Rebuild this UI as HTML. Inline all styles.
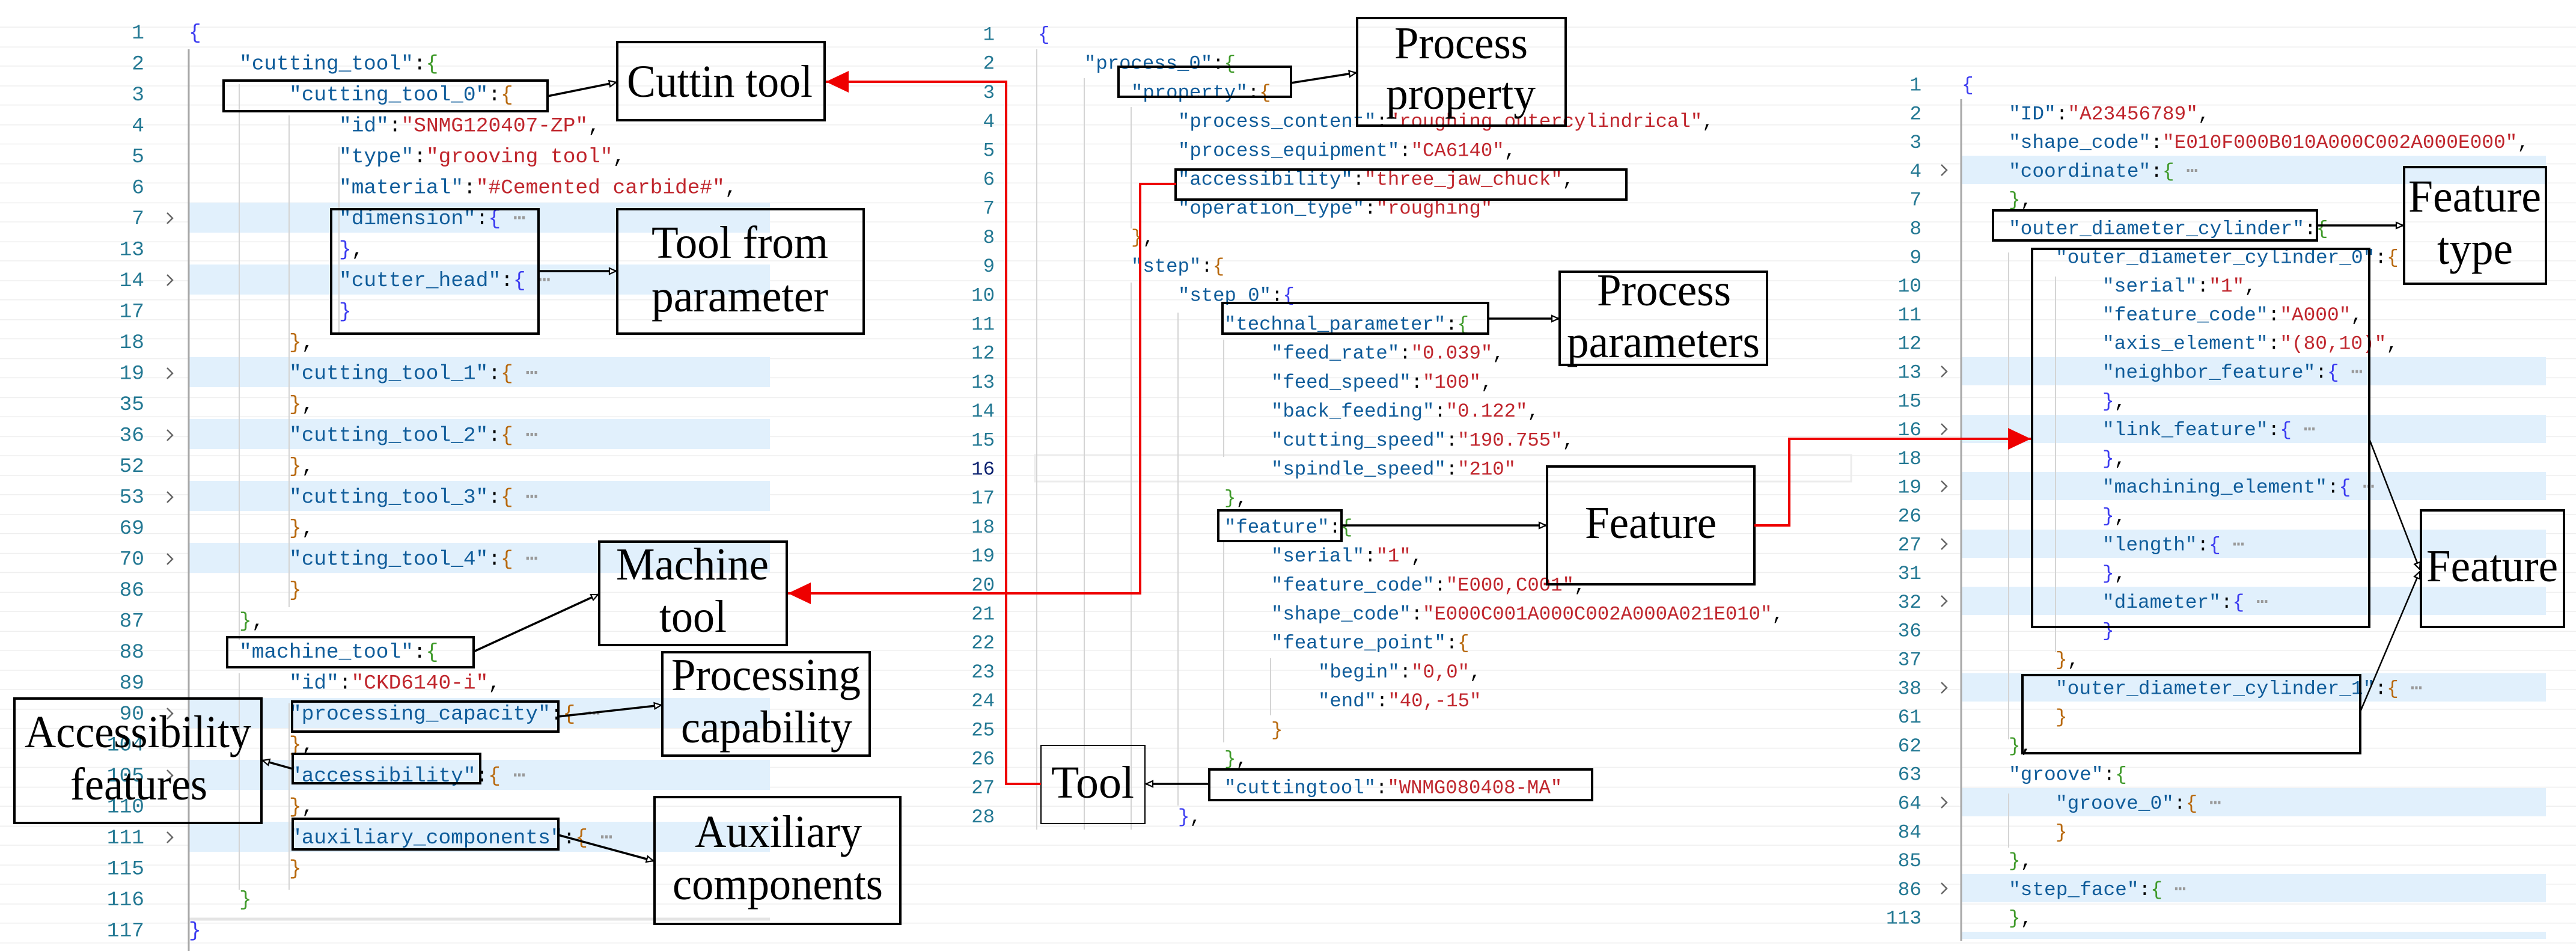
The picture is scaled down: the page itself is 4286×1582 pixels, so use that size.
<!DOCTYPE html>
<html><head><meta charset="utf-8"><style>
html,body{margin:0;padding:0;background:#fff;}
body{width:4286px;height:1582px;overflow:hidden;position:relative;
background:repeating-linear-gradient(to bottom,transparent 0,transparent 30.9px,#ebebeb 30.9px,#ebebeb 32.4px);background-position:0 14px;}
svg{position:absolute;left:0;top:0;}
text{white-space:pre;}
.c1{font-family:"Liberation Mono",monospace;font-size:34.5px;fill:#000;}
.c2{font-family:"Liberation Mono",monospace;font-size:32.3px;fill:#000;}
.c3{font-family:"Liberation Mono",monospace;font-size:32.8px;fill:#000;}
.n{fill:#237893;}
.k{fill:#0f5c9a;}.s{fill:#c0262d;}.b1{fill:#3b3bf0;}.b2{fill:#3f9a2a;}.b3{fill:#b8690e;}.e{fill:#999;}
.lab{font-family:"Liberation Serif",serif;font-size:76px;fill:#000;}
.bx{fill:none;stroke:#000;stroke-width:4;}
.ar{fill:none;stroke:#000;stroke-width:3.5;}
.rd{fill:none;stroke:#e00;stroke-width:4;}
.g{stroke:#d4d4d4;stroke-width:2;}
.gm{stroke:#a8a8a8;stroke-width:3;}
.hl{fill:#e1f0fc;}
.ch{fill:none;stroke:#666;stroke-width:2.5;}
</style></head><body>
<svg width="4286" height="1582" viewBox="0 0 4286 1582" xmlns="http://www.w3.org/2000/svg">
<defs>
<marker id="a" markerWidth="16" markerHeight="16" refX="13" refY="8" orient="auto" markerUnits="userSpaceOnUse"><path d="M2,3 L13,8 L2,13 z" fill="#fff" stroke="#000" stroke-width="2.2"/></marker>
<marker id="r" markerWidth="40" markerHeight="40" refX="38" refY="20" orient="auto" markerUnits="userSpaceOnUse"><path d="M0,2 L38,20 L0,38 z" fill="#e00"/></marker>
</defs>

<g class="hl">
<rect x="314" y="337" width="967" height="50"/><rect x="314" y="440" width="967" height="50"/>
<rect x="314" y="594" width="967" height="50"/><rect x="314" y="697" width="967" height="50"/>
<rect x="314" y="800" width="967" height="50"/><rect x="314" y="903" width="967" height="50"/>
<rect x="314" y="1161" width="967" height="50"/><rect x="314" y="1264" width="967" height="50"/>
<rect x="314" y="1367" width="967" height="50"/>
<rect x="3263" y="259" width="973" height="47"/><rect x="3263" y="594" width="973" height="47"/>
<rect x="3263" y="690" width="973" height="47"/><rect x="3263" y="785" width="973" height="47"/>
<rect x="3263" y="881" width="973" height="47"/><rect x="3263" y="976" width="973" height="47"/>
<rect x="3263" y="1120" width="973" height="47"/><rect x="3263" y="1311" width="973" height="47"/>
<rect x="3263" y="1454" width="973" height="47"/><rect x="3263" y="1550" width="973" height="12"/>
</g>
<rect x="1722" y="757" width="1358" height="44" fill="none" stroke="#ececec" stroke-width="3"/>
<line x1="314" y1="1529" x2="1281" y2="1529" stroke="#e4e4e4" stroke-width="5"/>

<line class="gm" x1="314" y1="82" x2="314" y2="1582"/>
<line class="g" x1="398" y1="140" x2="398" y2="1065"/><line class="g" x1="398" y1="1120" x2="398" y2="1480"/>
<line class="g" x1="481" y1="192" x2="481" y2="1010"/><line class="g" x1="481" y1="1170" x2="481" y2="1480"/>
<line class="g" x1="564" y1="244" x2="564" y2="555"/>
<line class="g" x1="1725" y1="82" x2="1725" y2="1380"/><line class="g" x1="1804" y1="130" x2="1804" y2="1380"/>
<line class="g" x1="1882" y1="178" x2="1882" y2="380"/><line class="g" x1="1882" y1="470" x2="1882" y2="1380"/>
<line class="g" x1="1960" y1="520" x2="1960" y2="1340"/><line class="g" x1="2036" y1="565" x2="2036" y2="760"/>
<line class="g" x1="2036" y1="900" x2="2036" y2="1235"/><line class="g" x1="2114" y1="1095" x2="2114" y2="1190"/>
<line class="gm" x1="3263" y1="165" x2="3263" y2="1565"/>
<line class="g" x1="3342" y1="420" x2="3342" y2="1230"/><line class="g" x1="3342" y1="1320" x2="3342" y2="1410"/>
<line class="g" x1="3420" y1="460" x2="3420" y2="1085"/>

<g class="c1 n" text-anchor="end">
<text x="240" y="64">1</text><text x="240" y="115.5">2</text><text x="240" y="167">3</text><text x="240" y="218.5">4</text>
<text x="240" y="270">5</text><text x="240" y="321.5">6</text><text x="240" y="373">7</text><text x="240" y="424.5">13</text>
<text x="240" y="476">14</text><text x="240" y="527.5">17</text><text x="240" y="579">18</text><text x="240" y="630.5">19</text>
<text x="240" y="682">35</text><text x="240" y="733.5">36</text><text x="240" y="785">52</text><text x="240" y="836.5">53</text>
<text x="240" y="888">69</text><text x="240" y="939.5">70</text><text x="240" y="991">86</text><text x="240" y="1042.5">87</text>
<text x="240" y="1094">88</text><text x="240" y="1145.5">89</text><text x="240" y="1197">90</text><text x="240" y="1248.5">104</text>
<text x="240" y="1300">105</text><text x="240" y="1351.5">110</text><text x="240" y="1403">111</text><text x="240" y="1454.5">115</text>
<text x="240" y="1506">116</text><text x="240" y="1557.5">117</text>
</g>
<g>
<polyline class="ch" points="278,354 287,363 278,372"/><polyline class="ch" points="278,457 287,466 278,475"/>
<polyline class="ch" points="278,612 287,621 278,630"/><polyline class="ch" points="278,715 287,724 278,733"/>
<polyline class="ch" points="278,818 287,827 278,836"/><polyline class="ch" points="278,921 287,930 278,939"/>
<polyline class="ch" points="278,1178 287,1187 278,1196"/><polyline class="ch" points="278,1281 287,1290 278,1299"/>
<polyline class="ch" points="278,1384 287,1393 278,1402"/>
</g>
<g class="c1">
<text x="314" y="64"><tspan class="b1">{</tspan></text>
<text x="398" y="115.5"><tspan class="k">"cutting_tool"</tspan>:<tspan class="b2">{</tspan></text>
<text x="481" y="167"><tspan class="k">"cutting_tool_0"</tspan>:<tspan class="b3">{</tspan></text>
<text x="564" y="218.5"><tspan class="k">"id"</tspan>:<tspan class="s">"SNMG120407-ZP"</tspan>,</text>
<text x="564" y="270"><tspan class="k">"type"</tspan>:<tspan class="s">"grooving tool"</tspan>,</text>
<text x="564" y="321.5"><tspan class="k">"material"</tspan>:<tspan class="s">"#Cemented carbide#"</tspan>,</text>
<text x="564" y="373"><tspan class="k">"dimension"</tspan>:<tspan class="b1">{</tspan><tspan class="e"> ⋯</tspan></text>
<text x="564" y="424.5"><tspan class="b1">}</tspan>,</text>
<text x="564" y="476"><tspan class="k">"cutter_head"</tspan>:<tspan class="b1">{</tspan><tspan class="e"> ⋯</tspan></text>
<text x="564" y="527.5"><tspan class="b1">}</tspan></text>
<text x="481" y="579"><tspan class="b3">}</tspan>,</text>
<text x="481" y="630.5"><tspan class="k">"cutting_tool_1"</tspan>:<tspan class="b3">{</tspan><tspan class="e"> ⋯</tspan></text>
<text x="481" y="682"><tspan class="b3">}</tspan>,</text>
<text x="481" y="733.5"><tspan class="k">"cutting_tool_2"</tspan>:<tspan class="b3">{</tspan><tspan class="e"> ⋯</tspan></text>
<text x="481" y="785"><tspan class="b3">}</tspan>,</text>
<text x="481" y="836.5"><tspan class="k">"cutting_tool_3"</tspan>:<tspan class="b3">{</tspan><tspan class="e"> ⋯</tspan></text>
<text x="481" y="888"><tspan class="b3">}</tspan>,</text>
<text x="481" y="939.5"><tspan class="k">"cutting_tool_4"</tspan>:<tspan class="b3">{</tspan><tspan class="e"> ⋯</tspan></text>
<text x="481" y="991"><tspan class="b3">}</tspan></text>
<text x="398" y="1042.5"><tspan class="b2">}</tspan>,</text>
<text x="398" y="1094"><tspan class="k">"machine_tool"</tspan>:<tspan class="b2">{</tspan></text>
<text x="481" y="1145.5"><tspan class="k">"id"</tspan>:<tspan class="s">"CKD6140-i"</tspan>,</text>
<text x="481" y="1197"><tspan class="k">"processing_capacity"</tspan>:<tspan class="b3">{</tspan><tspan class="e"> ⋯</tspan></text>
<text x="481" y="1248.5"><tspan class="b3">}</tspan>,</text>
<text x="481" y="1300"><tspan class="k">"accessibility"</tspan>:<tspan class="b3">{</tspan><tspan class="e"> ⋯</tspan></text>
<text x="481" y="1351.5"><tspan class="b3">}</tspan>,</text>
<text x="481" y="1403"><tspan class="k">"auxiliary_components"</tspan>:<tspan class="b3">{</tspan><tspan class="e"> ⋯</tspan></text>
<text x="481" y="1454.5"><tspan class="b3">}</tspan></text>
<text x="398" y="1506"><tspan class="b2">}</tspan></text>
<text x="314" y="1557.5"><tspan class="b1">}</tspan></text>
</g>

<g class="c2 n" text-anchor="end">
<text x="1655" y="66.5">1</text><text x="1655" y="114.7">2</text><text x="1655" y="162.9">3</text><text x="1655" y="211.1">4</text>
<text x="1655" y="259.3">5</text><text x="1655" y="307.5">6</text><text x="1655" y="355.7">7</text><text x="1655" y="403.9">8</text>
<text x="1655" y="452.1">9</text><text x="1655" y="500.3">10</text><text x="1655" y="548.5">11</text><text x="1655" y="596.7">12</text>
<text x="1655" y="644.9">13</text><text x="1655" y="693.1">14</text><text x="1655" y="741.3">15</text><text x="1655" y="789.5" style="fill:#0b216f">16</text>
<text x="1655" y="837.7">17</text><text x="1655" y="885.9">18</text><text x="1655" y="934.1">19</text><text x="1655" y="982.3">20</text>
<text x="1655" y="1030.5">21</text><text x="1655" y="1078.7">22</text><text x="1655" y="1126.9">23</text><text x="1655" y="1175.1">24</text>
<text x="1655" y="1223.3">25</text><text x="1655" y="1271.5">26</text><text x="1655" y="1319.7">27</text><text x="1655" y="1367.9">28</text>
</g>
<g class="c2">
<text x="1727" y="66.5"><tspan class="b1">{</tspan></text>
<text x="1804" y="114.7"><tspan class="k">"process_0"</tspan>:<tspan class="b2">{</tspan></text>
<text x="1882" y="162.9"><tspan class="k">"property"</tspan>:<tspan class="b3">{</tspan></text>
<text x="1960" y="211.1"><tspan class="k">"process_content"</tspan>:<tspan class="s">"roughing outercylindrical"</tspan>,</text>
<text x="1960" y="259.3"><tspan class="k">"process_equipment"</tspan>:<tspan class="s">"CA6140"</tspan>,</text>
<text x="1960" y="307.5"><tspan class="k">"accessibility"</tspan>:<tspan class="s">"three_jaw_chuck"</tspan>,</text>
<text x="1960" y="355.7"><tspan class="k">"operation_type"</tspan>:<tspan class="s">"roughing"</tspan></text>
<text x="1882" y="403.9"><tspan class="b3">}</tspan>,</text>
<text x="1882" y="452.1"><tspan class="k">"step"</tspan>:<tspan class="b3">{</tspan></text>
<text x="1960" y="500.3"><tspan class="k">"step_0"</tspan>:<tspan class="b1">{</tspan></text>
<text x="2037" y="548.5"><tspan class="k">"technal_parameter"</tspan>:<tspan class="b2">{</tspan></text>
<text x="2115" y="596.7"><tspan class="k">"feed_rate"</tspan>:<tspan class="s">"0.039"</tspan>,</text>
<text x="2115" y="644.9"><tspan class="k">"feed_speed"</tspan>:<tspan class="s">"100"</tspan>,</text>
<text x="2115" y="693.1"><tspan class="k">"back_feeding"</tspan>:<tspan class="s">"0.122"</tspan>,</text>
<text x="2115" y="741.3"><tspan class="k">"cutting_speed"</tspan>:<tspan class="s">"190.755"</tspan>,</text>
<text x="2115" y="789.5"><tspan class="k">"spindle_speed"</tspan>:<tspan class="s">"210"</tspan></text>
<text x="2037" y="837.7"><tspan class="b2">}</tspan>,</text>
<text x="2037" y="885.9"><tspan class="k">"feature"</tspan>:<tspan class="b2">{</tspan></text>
<text x="2115" y="934.1"><tspan class="k">"serial"</tspan>:<tspan class="s">"1"</tspan>,</text>
<text x="2115" y="982.3"><tspan class="k">"feature_code"</tspan>:<tspan class="s">"E000,C001"</tspan>,</text>
<text x="2115" y="1030.5"><tspan class="k">"shape_code"</tspan>:<tspan class="s">"E000C001A000C002A000A021E010"</tspan>,</text>
<text x="2115" y="1078.7"><tspan class="k">"feature_point"</tspan>:<tspan class="b3">{</tspan></text>
<text x="2193" y="1126.9"><tspan class="k">"begin"</tspan>:<tspan class="s">"0,0"</tspan>,</text>
<text x="2193" y="1175.1"><tspan class="k">"end"</tspan>:<tspan class="s">"40,-15"</tspan></text>
<text x="2115" y="1223.3"><tspan class="b3">}</tspan></text>
<text x="2037" y="1271.5"><tspan class="b2">}</tspan>,</text>
<text x="2037" y="1319.7"><tspan class="k">"cuttingtool"</tspan>:<tspan class="s">"WNMG080408-MA"</tspan></text>
<text x="1960" y="1367.9"><tspan class="b1">}</tspan>,</text>
</g>

<g class="c3 n" text-anchor="end">
<text x="3197" y="150.5">1</text><text x="3197" y="198.3">2</text><text x="3197" y="246.1">3</text><text x="3197" y="293.9">4</text>
<text x="3197" y="341.7">7</text><text x="3197" y="389.5">8</text><text x="3197" y="437.3">9</text><text x="3197" y="485.1">10</text>
<text x="3197" y="532.9">11</text><text x="3197" y="580.7">12</text><text x="3197" y="628.5">13</text><text x="3197" y="676.3">15</text>
<text x="3197" y="724.1">16</text><text x="3197" y="771.9">18</text><text x="3197" y="819.7">19</text><text x="3197" y="867.5">26</text>
<text x="3197" y="915.3">27</text><text x="3197" y="963.1">31</text><text x="3197" y="1010.9">32</text><text x="3197" y="1058.7">36</text>
<text x="3197" y="1106.5">37</text><text x="3197" y="1154.3">38</text><text x="3197" y="1202.1">61</text><text x="3197" y="1249.9">62</text>
<text x="3197" y="1297.7">63</text><text x="3197" y="1345.5">64</text><text x="3197" y="1393.3">84</text><text x="3197" y="1441.1">85</text>
<text x="3197" y="1488.9">86</text><text x="3197" y="1536.7">113</text>
</g>
<g>
<polyline class="ch" points="3230,274 3239,283 3230,292"/><polyline class="ch" points="3230,609 3239,618 3230,627"/>
<polyline class="ch" points="3230,705 3239,714 3230,723"/><polyline class="ch" points="3230,800 3239,809 3230,818"/>
<polyline class="ch" points="3230,896 3239,905 3230,914"/><polyline class="ch" points="3230,991 3239,1000 3230,1009"/>
<polyline class="ch" points="3230,1135 3239,1144 3230,1153"/><polyline class="ch" points="3230,1326 3239,1335 3230,1344"/>
<polyline class="ch" points="3230,1469 3239,1478 3230,1487"/>
</g>
<g class="c3">
<text x="3264" y="150.5"><tspan class="b1">{</tspan></text>
<text x="3342" y="198.3"><tspan class="k">"ID"</tspan>:<tspan class="s">"A23456789"</tspan>,</text>
<text x="3342" y="246.1"><tspan class="k">"shape_code"</tspan>:<tspan class="s">"E010F000B010A000C002A000E000"</tspan>,</text>
<text x="3342" y="293.9"><tspan class="k">"coordinate"</tspan>:<tspan class="b2">{</tspan><tspan class="e"> ⋯</tspan></text>
<text x="3342" y="341.7"><tspan class="b2">}</tspan>,</text>
<text x="3342" y="389.5"><tspan class="k">"outer_diameter_cylinder"</tspan>:<tspan class="b2">{</tspan></text>
<text x="3420" y="437.3"><tspan class="k">"outer_diameter_cylinder_0"</tspan>:<tspan class="b3">{</tspan></text>
<text x="3498" y="485.1"><tspan class="k">"serial"</tspan>:<tspan class="s">"1"</tspan>,</text>
<text x="3498" y="532.9"><tspan class="k">"feature_code"</tspan>:<tspan class="s">"A000"</tspan>,</text>
<text x="3498" y="580.7"><tspan class="k">"axis_element"</tspan>:<tspan class="s">"(80,10)"</tspan>,</text>
<text x="3498" y="628.5"><tspan class="k">"neighbor_feature"</tspan>:<tspan class="b1">{</tspan><tspan class="e"> ⋯</tspan></text>
<text x="3498" y="676.3"><tspan class="b1">}</tspan>,</text>
<text x="3498" y="724.1"><tspan class="k">"link_feature"</tspan>:<tspan class="b1">{</tspan><tspan class="e"> ⋯</tspan></text>
<text x="3498" y="771.9"><tspan class="b1">}</tspan>,</text>
<text x="3498" y="819.7"><tspan class="k">"machining_element"</tspan>:<tspan class="b1">{</tspan><tspan class="e"> ⋯</tspan></text>
<text x="3498" y="867.5"><tspan class="b1">}</tspan>,</text>
<text x="3498" y="915.3"><tspan class="k">"length"</tspan>:<tspan class="b1">{</tspan><tspan class="e"> ⋯</tspan></text>
<text x="3498" y="963.1"><tspan class="b1">}</tspan>,</text>
<text x="3498" y="1010.9"><tspan class="k">"diameter"</tspan>:<tspan class="b1">{</tspan><tspan class="e"> ⋯</tspan></text>
<text x="3498" y="1058.7"><tspan class="b1">}</tspan></text>
<text x="3420" y="1106.5"><tspan class="b3">}</tspan>,</text>
<text x="3420" y="1154.3"><tspan class="k">"outer_diameter_cylinder_1"</tspan>:<tspan class="b3">{</tspan><tspan class="e"> ⋯</tspan></text>
<text x="3420" y="1202.1"><tspan class="b3">}</tspan></text>
<text x="3342" y="1249.9"><tspan class="b2">}</tspan>,</text>
<text x="3342" y="1297.7"><tspan class="k">"groove"</tspan>:<tspan class="b2">{</tspan></text>
<text x="3420" y="1345.5"><tspan class="k">"groove_0"</tspan>:<tspan class="b3">{</tspan><tspan class="e"> ⋯</tspan></text>
<text x="3420" y="1393.3"><tspan class="b3">}</tspan></text>
<text x="3342" y="1441.1"><tspan class="b2">}</tspan>,</text>
<text x="3342" y="1488.9"><tspan class="k">"step_face"</tspan>:<tspan class="b2">{</tspan><tspan class="e"> ⋯</tspan></text>
<text x="3342" y="1536.7"><tspan class="b2">}</tspan>,</text>
</g>

<g class="bx">
<rect x="372" y="134" width="539" height="51"/>
<rect x="1027" y="70" width="345" height="130"/>
<rect x="551" y="348" width="345" height="207"/>
<rect x="1027" y="348" width="410" height="207"/>
<rect x="997" y="901" width="312" height="172"/>
<rect x="378" y="1060" width="410" height="50"/>
<rect x="1102" y="1085" width="345" height="172"/>
<rect x="486" y="1167" width="443" height="50"/>
<rect x="24" y="1162" width="411" height="207"/>
<rect x="487" y="1254" width="312" height="49"/>
<rect x="1089" y="1326" width="409" height="211"/>
<rect x="487" y="1362" width="442" height="51"/>
<rect x="2258" y="30" width="347" height="179"/>
<rect x="1861" y="111" width="287" height="50"/>
<rect x="1956" y="282" width="750" height="50"/>
<rect x="2595" y="452" width="345" height="155"/>
<rect x="2034" y="504" width="442" height="51"/>
<rect x="2574" y="776" width="345" height="196"/>
<rect x="2027" y="849" width="205" height="51"/>
<rect x="2012" y="1280" width="637" height="51"/>
<rect x="3316" y="350" width="539" height="50"/>
<rect x="4000" y="278" width="236" height="194"/>
<rect x="3381" y="414" width="561" height="629"/>
<rect x="3365" y="1123" width="562" height="130"/>
<rect x="4028" y="849" width="238" height="194"/>
</g>
<rect x="1732" y="1240" width="173" height="130" fill="none" stroke="#000" stroke-width="2"/>

<g class="ar">
<line x1="911" y1="160" x2="1025" y2="137" marker-end="url(#a)"/>
<line x1="896" y1="451" x2="1025" y2="451" marker-end="url(#a)"/>
<line x1="788" y1="1084" x2="995" y2="989" marker-end="url(#a)"/>
<line x1="929" y1="1192" x2="1100" y2="1173" marker-end="url(#a)"/>
<line x1="487" y1="1279" x2="437" y2="1265" marker-end="url(#a)"/>
<line x1="929" y1="1389" x2="1087" y2="1432" marker-end="url(#a)"/>
<line x1="2148" y1="138" x2="2256" y2="121" marker-end="url(#a)"/>
<line x1="2476" y1="530" x2="2593" y2="530" marker-end="url(#a)"/>
<line x1="2232" y1="874" x2="2572" y2="874" marker-end="url(#a)"/>
<line x1="2012" y1="1304" x2="1907" y2="1304" marker-end="url(#a)"/>
<line x1="3855" y1="375" x2="3998" y2="375" marker-end="url(#a)"/>
<line x1="3942" y1="730" x2="4026" y2="947" marker-end="url(#a)" stroke-width="2.5"/>
<line x1="3927" y1="1184" x2="4026" y2="951" marker-end="url(#a)" stroke-width="2.5"/>
</g>

<polyline class="rd" points="1732,1304 1674,1304 1674,136 1374,136" marker-end="url(#r)"/>
<polyline class="rd" points="1957,306 1897,306 1897,987 1311,987" marker-end="url(#r)"/>
<polyline class="rd" points="2919,874 2977,874 2977,730 3379,730" marker-end="url(#r)"/>

<g class="lab" text-anchor="start">
<text x="1043" y="161" textLength="309" lengthAdjust="spacingAndGlyphs">Cuttin tool</text>
<text x="1084" y="429" textLength="294" lengthAdjust="spacingAndGlyphs">Tool from</text>
<text x="1084" y="518" textLength="294" lengthAdjust="spacingAndGlyphs">parameter</text>
<text x="1025" y="964" textLength="254" lengthAdjust="spacingAndGlyphs">Machine</text>
<text x="1097" y="1051" textLength="112" lengthAdjust="spacingAndGlyphs">tool</text>
<text x="1117" y="1148" textLength="315" lengthAdjust="spacingAndGlyphs">Processing</text>
<text x="1133" y="1235" textLength="285" lengthAdjust="spacingAndGlyphs">capability</text>
<text x="41" y="1243" textLength="377" lengthAdjust="spacingAndGlyphs">Accessibility</text>
<text x="117" y="1330" textLength="228" lengthAdjust="spacingAndGlyphs">features</text>
<text x="1156" y="1409" textLength="278" lengthAdjust="spacingAndGlyphs">Auxiliary</text>
<text x="1119" y="1496" textLength="350" lengthAdjust="spacingAndGlyphs">components</text>
<text x="2320" y="97" textLength="222" lengthAdjust="spacingAndGlyphs">Process</text>
<text x="2306" y="181" textLength="249" lengthAdjust="spacingAndGlyphs">property</text>
<text x="2657" y="508" textLength="223" lengthAdjust="spacingAndGlyphs">Process</text>
<text x="2607" y="594" textLength="321" lengthAdjust="spacingAndGlyphs">parameters</text>
<text x="2637" y="895" textLength="219" lengthAdjust="spacingAndGlyphs">Feature</text>
<text x="1749" y="1327" textLength="138" lengthAdjust="spacingAndGlyphs">Tool</text>
<text x="4007" y="352" textLength="221" lengthAdjust="spacingAndGlyphs">Feature</text>
<text x="4055" y="439" textLength="126" lengthAdjust="spacingAndGlyphs">type</text>
<text x="4037" y="967" textLength="219" lengthAdjust="spacingAndGlyphs">Feature</text>
</g>
</svg>
</body></html>
